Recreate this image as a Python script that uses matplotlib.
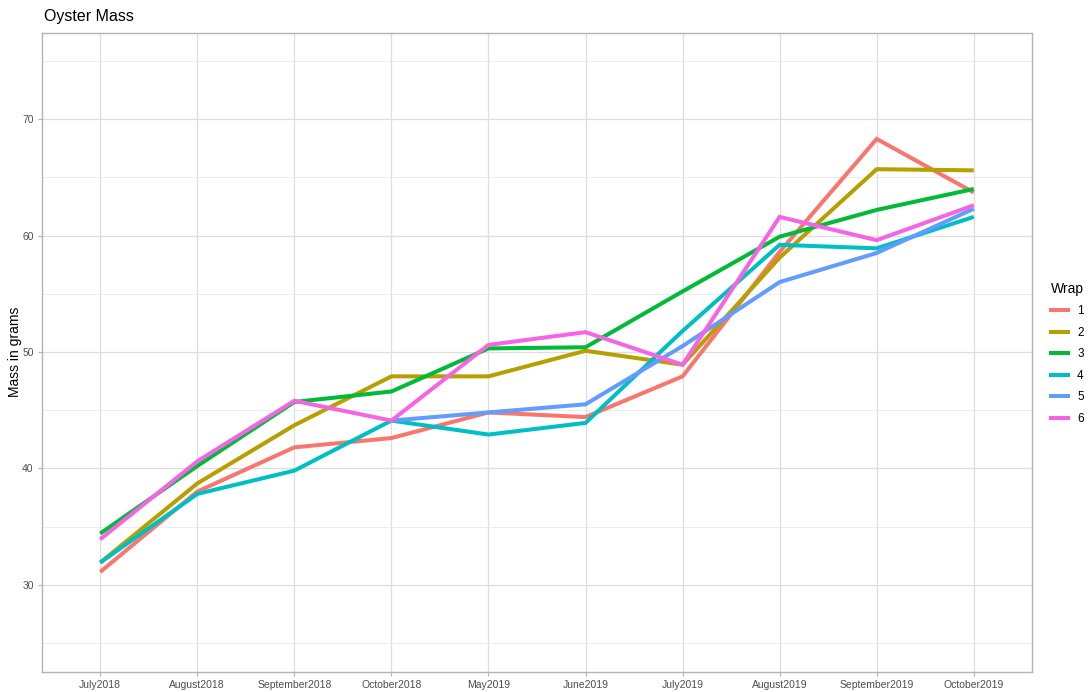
import numpy as np
import matplotlib
matplotlib.use("Agg")
import matplotlib.pyplot as plt
from matplotlib.lines import Line2D

plt.rcParams["font.family"] = ["Liberation Sans", "DejaVu Sans"]

months = ["July2018", "August2018", "September2018", "October2018", "May2019",
          "June2019", "July2019", "August2019", "September2019", "October2019"]
wraps = ["1", "2", "3", "4", "5", "6"]
colors = ["#F8766D", "#B79F00", "#00BA38", "#00BFC4", "#619CFF", "#F564E3"]

wrap1 = [31.1, 38.0, 41.8, 42.6, 44.8, 44.4, 47.9, 58.6, 68.3, 63.7]
wrap2 = [31.9, 38.7, 43.7, 47.9, 47.9, 50.1, 48.9, 58.1, 65.7, 65.6]
wrap3 = [34.4, 40.2, 45.7, 46.6, 50.3, 50.4, 55.2, 59.9, 62.2, 64.0]
wrap4 = [31.9, 37.8, 39.8, 44.1, 42.9, 43.9, 51.8, 59.2, 58.9, 61.6]
wrap5 = [np.nan, np.nan, np.nan, 44.1, 44.8, 45.5, 50.5, 56.0, 58.5, 62.3]
wrap6 = [33.9, 40.6, 45.8, 44.1, 50.6, 51.7, 48.9, 61.6, 59.6, 62.6]
series = [wrap1, wrap2, wrap3, wrap4, wrap5, wrap6]

fig = plt.figure(figsize=(10.88, 6.92), dpi=100)
ax = fig.add_axes([42 / 1088, 1 - 672 / 692, 990 / 1088, 639 / 692])

x = np.arange(len(months))
for vals, c in zip(series, colors):
    ax.plot(x, vals, color=c, lw=2.9, solid_capstyle="butt", solid_joinstyle="miter", zorder=3)

ax.set_xlim(-0.6, len(months) - 1 + 0.6)
ax.set_ylim(22.5, 77.4)
ax.set_xticks(x)
ax.set_xticklabels(months)
ax.set_yticks([30, 40, 50, 60, 70])
ax.set_yticks([25, 35, 45, 55, 65, 75], minor=True)

# ggplot theme_light look
ax.grid(True, which="major", color="#DEDEDE", lw=0.9, zorder=0)
ax.grid(True, which="minor", axis="y", color="#E6E6E6", lw=0.5, zorder=0)
for s in ax.spines.values():
    s.set_color("#B3B3B3")
    s.set_linewidth(1.0)
ax.tick_params(which="major", length=3, color="#B3B3B3", width=0.8,
               labelsize=7.5, labelcolor="#4D4D4D", pad=3)
ax.tick_params(which="minor", length=0)

ax.set_ylabel("")
fig.text(15 / 1088, 1 - 352 / 692, "Mass in grams", fontsize=10, rotation=90,
         ha="center", va="center")
fig.text(44 / 1088, 1 - 17 / 692, "Oyster Mass", fontsize=11.5, ha="left", va="center")

handles = [Line2D([0], [0], color=c, lw=2.9) for c in colors]
leg = fig.legend(handles, wraps, title="Wrap", loc="upper left",
                 bbox_to_anchor=(1051 / 1088, 1 - 282 / 692), frameon=False,
                 borderpad=0, borderaxespad=0,
                 fontsize=8.5, title_fontsize=10, handlelength=1.45,
                 handletextpad=0.76, labelspacing=0.8)
leg._legend_box.align = "left"

fig.savefig("out.png", dpi=100)
